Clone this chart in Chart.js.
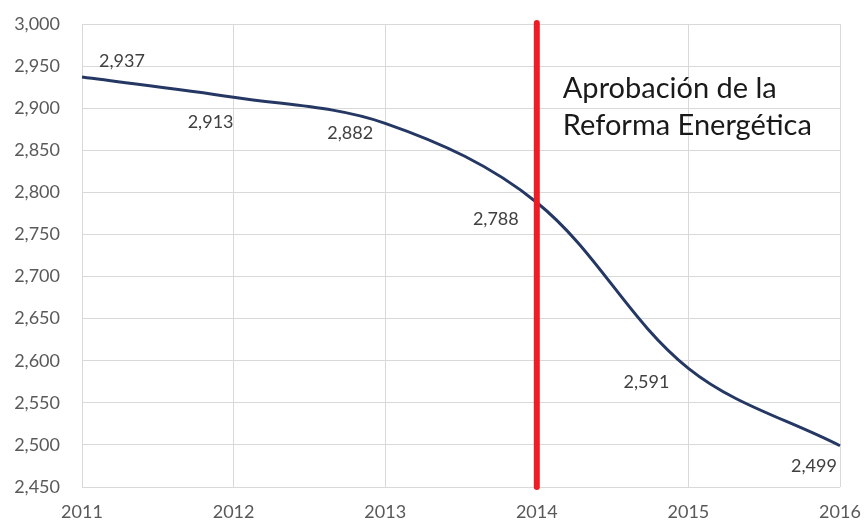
<!DOCTYPE html>
<html>
<head>
<meta charset="utf-8">
<script src="https://cdn.jsdelivr.net/npm/chart.js@4"></script>
<style>
    html, body { margin: 0; padding: 0; background: #ffffff; }
    #wrap { width: 864px; height: 525px; }
</style>
</head>
<body>
<div id="wrap"><canvas id="chartContainer"></canvas></div>
<script>
// values
const years = ['2011', '2012', '2013', '2014', '2015', '2016'];
const production = [2937, 2913, 2882, 2788, 2591, 2499];
const yTicks = { min: 2450, max: 3000, step: 50 };
const markerYear = '2014';
const markerText = ['Aprobación de la', 'Reforma Energética'];

// where each value label sits relative to its point (px)
const labelOffsets = [[40, -16], [-23, 25], [-35, 10], [-41, 17], [-42, 14], [-26, 20]];

const fmt = v => v.toLocaleString('en-US');

// red vertical line + the text next to it
const markerPlugin = {
    id: 'marker',
    afterDatasetsDraw(chart) {
        const ctx = chart.ctx;
        const area = chart.chartArea;
        const x = chart.scales.x.getPixelForValue(years.indexOf(markerYear));
        ctx.save();
        ctx.strokeStyle = '#ee1c25';
        ctx.lineWidth = 6;
        ctx.lineCap = 'round';
        ctx.beginPath();
        ctx.moveTo(x, area.top - 1);
        ctx.lineTo(x, area.bottom);
        ctx.stroke();

        ctx.fillStyle = '#1a1a1a';
        ctx.font = '29px Lato';
        ctx.textAlign = 'left';
        ctx.textBaseline = 'alphabetic';
        ctx.fillText(markerText[0], x + 26, 98);
        ctx.fillText(markerText[1], x + 26, 135);
        ctx.restore();
    }
};

// value labels
const valueLabels = {
    id: 'valueLabels',
    afterDatasetsDraw(chart) {
        const ctx = chart.ctx;
        const meta = chart.getDatasetMeta(0);
        ctx.save();
        ctx.fillStyle = '#404040';
        ctx.font = '18px Lato';
        ctx.textAlign = 'center';
        ctx.textBaseline = 'middle';
        meta.data.forEach((pt, i) => {
            const off = labelOffsets[i];
            ctx.fillText(fmt(production[i]), pt.x + off[0], pt.y + off[1]);
        });
        ctx.restore();
    }
};

const ctx = document.getElementById('chartContainer').getContext('2d');
const myChart = new Chart(ctx, {
    type: 'line',
    data: {
        labels: years,
        datasets: [{
            data: production,
            borderColor: '#253864',
            borderWidth: 3,
            pointRadius: 0,
            tension: 0.35,
            fill: false
        }]
    },
    options: {
        responsive: true,
        maintainAspectRatio: false,
        animation: false,
        layout: { padding: { top: 24, right: 24, left: 0, bottom: 0 } },
        plugins: {
            legend: { display: false },
            tooltip: { enabled: false }
        },
        scales: {
            x: {
                grid: { color: '#d9d9d9', drawTicks: false },
                border: { display: false },
                ticks: {
                    color: '#595959',
                    font: { family: 'Lato', size: 18 },
                    padding: 14,
                    maxRotation: 0
                },
                afterFit(scale) {
                    scale.height = 38;
                    scale.paddingLeft = 0;
                    scale.paddingRight = 0;
                }
            },
            y: {
                min: yTicks.min,
                max: yTicks.max,
                grid: { color: '#d9d9d9', drawTicks: false },
                border: { display: false },
                ticks: {
                    stepSize: yTicks.step,
                    color: '#595959',
                    font: { family: 'Lato', size: 18 },
                    padding: 22,
                    callback: v => fmt(v)
                },
                afterFit(scale) {
                    scale.width = 82;
                    scale.paddingTop = 0;
                    scale.paddingBottom = 0;
                }
            }
        }
    },
    plugins: [markerPlugin, valueLabels]
});
</script>
</body>
</html>
